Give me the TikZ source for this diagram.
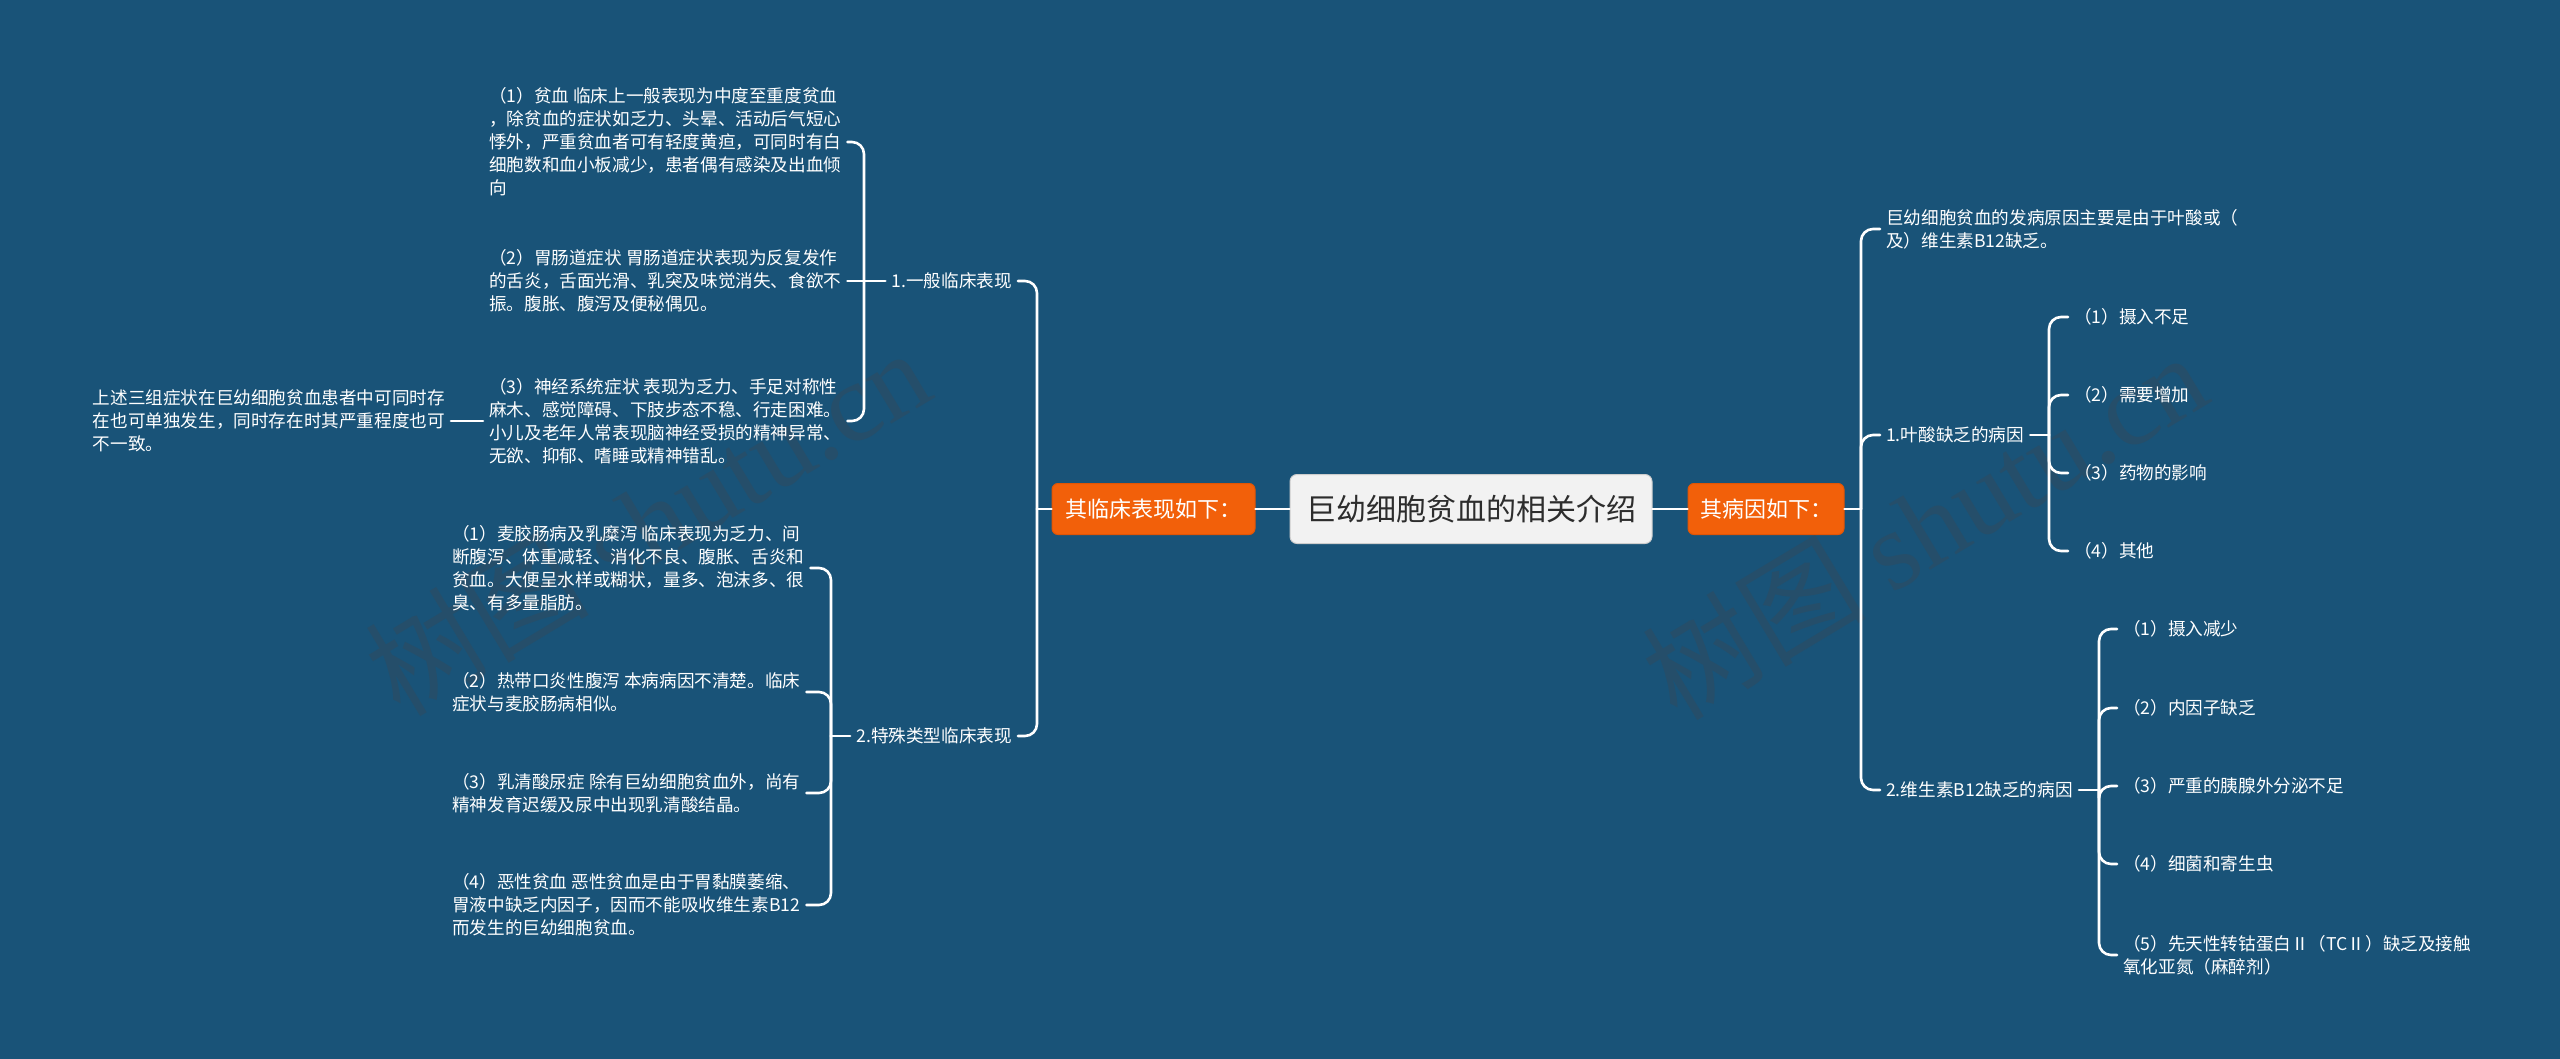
\documentclass[tikz,border=0pt]{standalone}
\usepackage{fontspec}
\setmainfont{Noto Sans CJK SC}
\newfontfamily\wmserif{Liberation Serif}
\usepackage{tikz}
\usetikzlibrary{positioning}
\definecolor{mybg}{RGB}{25,83,120}
\definecolor{myorange}{RGB}{242,96,10}
\definecolor{myorangeline}{RGB}{225,85,5}
\definecolor{titlefill}{RGB}{242,242,242}
\definecolor{titleline}{RGB}{205,205,205}
\definecolor{titletext}{RGB}{45,45,45}
\definecolor{wmgray}{RGB}{60,70,80}
\tikzset{
  title/.style={rectangle, fill=titlefill, draw=titleline, line width=1pt,
    rounded corners=7pt, minimum width=362pt, minimum height=69pt,
    text=titletext, font=\fontsize{30}{36}\selectfont},
  tagbox/.style={rectangle, fill=myorange, draw=myorangeline, line width=1pt,
    rounded corners=6pt, minimum height=51pt, text=white,
    font=\fontsize{22}{26}\selectfont},
  leaf/.style={text=white, align=left, inner xsep=6pt, inner ysep=2pt,
    font=\fontsize{17.6}{23}\selectfont},
  wmark/.style={text=wmgray, opacity=0.35, rotate=31,
    font=\fontsize{112}{120}\selectfont},
  conn/.style={draw=white, line width=2.6pt, rounded corners=12pt, line cap=round}
}

\begin{document}
\begin{tikzpicture}[x=1pt, y=-1pt]
  \useasboundingbox (0,0) rectangle (2560,1059);
  \fill[mybg] (0,0) rectangle (2560,1059);

  % watermark
  \node[wmark] (wmleft) at (647,521) {树图 {\wmserif shutu.cn}};
  \node[wmark] (wmright) at (1924,525) {树图 {\wmserif shutu.cn}};

  % centre and the two sides
  \node[title] (title) at (1471,509) {巨幼细胞贫血的相关介绍};
  \node[tagbox, minimum width=203pt, left=34pt of title] (clin) {其临床表现如下：};
  \node[tagbox, minimum width=156pt, right=35pt of title] (cause) {其病因如下：};

  \coordinate (clinbus) at (1037,509);
  \coordinate (causebus) at (1861,509);

  % clinical side
  \node[leaf, anchor=east] (gen) at (1018,281) {1.一般临床表现};
  \node[leaf, anchor=east] (spec) at (1018,736) {2.特殊类型临床表现};
  \coordinate (genbus) at (864,281);
  \coordinate (specbus) at (831,736);

  \node[leaf, anchor=west] (anemia) at (483,142) {（1）贫血 临床上一般表现为中度至重度贫血\\，除贫血的症状如乏力、头晕、活动后气短心\\悸外，严重贫血者可有轻度黄疸，可同时有白\\细胞数和血小板减少，患者偶有感染及出血倾\\向};
  \node[leaf, anchor=west] (gastro) at (483,281) {（2）胃肠道症状 胃肠道症状表现为反复发作\\的舌炎，舌面光滑、乳突及味觉消失、食欲不\\振。腹胀、腹泻及便秘偶见。};
  \node[leaf, anchor=west] (nerve) at (483,421) {（3）神经系统症状 表现为乏力、手足对称性\\麻木、感觉障碍、下肢步态不稳、行走困难。\\小儿及老年人常表现脑神经受损的精神异常、\\无欲、抑郁、嗜睡或精神错乱。};
  \node[leaf, anchor=east] (note) at (451,421) {上述三组症状在巨幼细胞贫血患者中可同时存\\在也可单独发生，同时存在时其严重程度也可\\不一致。};

  \node[leaf, anchor=west] (celiac) at (446,568) {（1）麦胶肠病及乳糜泻 临床表现为乏力、间\\断腹泻、体重减轻、消化不良、腹胀、舌炎和\\贫血。大便呈水样或糊状，量多、泡沫多、很\\臭、有多量脂肪。};
  \node[leaf, anchor=west] (sprue) at (446,692) {（2）热带口炎性腹泻 本病病因不清楚。临床\\症状与麦胶肠病相似。};
  \node[leaf, anchor=west] (orotic) at (446,793) {（3）乳清酸尿症 除有巨幼细胞贫血外，尚有\\精神发育迟缓及尿中出现乳清酸结晶。};
  \node[leaf, anchor=west] (pernic) at (446,905) {（4）恶性贫血 恶性贫血是由于胃黏膜萎缩、\\胃液中缺乏内因子，因而不能吸收维生素B12\\而发生的巨幼细胞贫血。};

  % cause side
  \node[leaf, anchor=west] (origin) at (1880,229) {巨幼细胞贫血的发病原因主要是由于叶酸或（\\及）维生素B12缺乏。};
  \node[leaf, anchor=west] (folate) at (1880,435) {1.叶酸缺乏的病因};
  \node[leaf, anchor=west] (vitb) at (1880,790) {2.维生素B12缺乏的病因};
  \coordinate (folbus) at (2049,435);
  \coordinate (vitbus) at (2099,790);

  \node[leaf, anchor=west] (fol1) at (2068,317) {（1）摄入不足};
  \node[leaf, anchor=west] (fol2) at (2068,395) {（2）需要增加};
  \node[leaf, anchor=west] (fol3) at (2068,473) {（3）药物的影响};
  \node[leaf, anchor=west] (fol4) at (2068,551) {（4）其他};

  \node[leaf, anchor=west] (vit1) at (2117,629) {（1）摄入减少};
  \node[leaf, anchor=west] (vit2) at (2117,708) {（2）内因子缺乏};
  \node[leaf, anchor=west] (vit3) at (2117,786) {（3）严重的胰腺外分泌不足};
  \node[leaf, anchor=west] (vit4) at (2117,864) {（4）细菌和寄生虫};
  \node[leaf, anchor=west] (vit5) at (2117,955) {（5）先天性转钴蛋白Ⅱ（TCⅡ）缺乏及接触\\氧化亚氮（麻醉剂）};

  % connectors
  \draw[conn] (title.west) -- (clin.east);
  \draw[conn] (title.east) -- (cause.west);
  \draw[conn] (clin.west) -- (clinbus);
  \draw[conn] (clinbus) |- (gen.east);
  \draw[conn] (clinbus) |- (spec.east);

  \draw[conn] (gen.west) -- (genbus);
  \draw[conn] (genbus) |- (anemia.east);
  \draw[conn] (genbus) -- (gastro.east);
  \draw[conn] (genbus) |- (nerve.east);
  \draw[conn] (nerve.west) -- (note.east);

  \draw[conn] (spec.west) -- (specbus);
  \foreach \n in {celiac,sprue,orotic,pernic}
    \draw[conn] (specbus) |- (\n.east);

  \draw[conn] (cause.east) -- (causebus);
  \foreach \n in {origin,folate,vitb}
    \draw[conn] (causebus) |- (\n.west);

  \draw[conn] (folate.east) -- (folbus);
  \foreach \n in {fol1,fol2,fol3,fol4}
    \draw[conn] (folbus) |- (\n.west);

  \draw[conn] (vitb.east) -- (vitbus);
  \foreach \n in {vit1,vit2,vit3,vit4,vit5}
    \draw[conn] (vitbus) |- (\n.west);
\end{tikzpicture}
\end{document}
